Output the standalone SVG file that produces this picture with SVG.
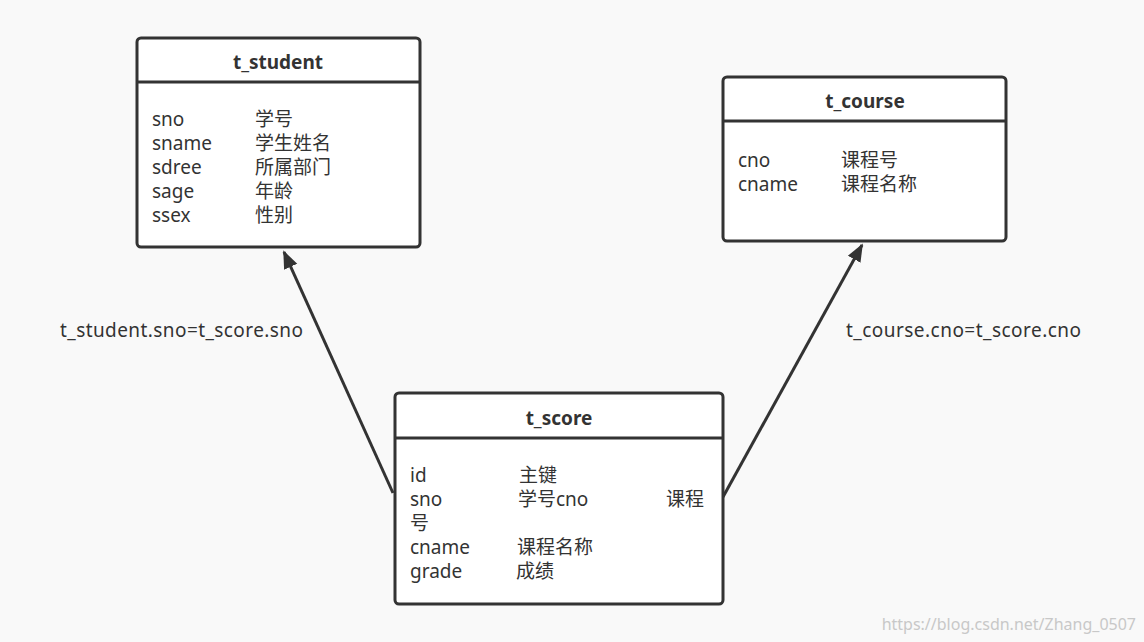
<svg xmlns="http://www.w3.org/2000/svg" width="1144" height="642" viewBox="0 0 1144 642">
<style>
.box{fill:#fff;stroke:#333;stroke-width:3}
.ln{stroke:#333;stroke-width:3}
text{font-family:"Noto Sans","Noto Sans CJK SC",sans-serif;font-size:19px;fill:#333}
.t{font-weight:bold;text-anchor:middle}
.wm{font-size:16px;fill:#c8c8c8;text-anchor:end}
</style>
<defs><marker id="b" viewBox="0 0 10 10" refX="9" refY="5" markerWidth="18" markerHeight="18" orient="auto" markerUnits="userSpaceOnUse"><path d="M0,1 L10,5 L0,9 z" fill="#333"/></marker></defs>
<rect width="1144" height="642" fill="#f9f9f9"/>
<g id="connectors">
<line class="ln" x1="393" y1="493" x2="284" y2="252" marker-end="url(#b)"/>
<line class="ln" x1="723" y1="497" x2="862" y2="245" marker-end="url(#b)"/>
<text x="60" y="337" textLength="243">t_student.sno=t_score.sno</text>
<text x="846" y="337" textLength="235">t_course.cno=t_score.cno</text>
</g>
<g id="t_student">
<rect class="box" x="137" y="38" width="283" height="209" rx="4"/>
<line class="ln" x1="137" y1="82" x2="420" y2="82"/>
<text class="t" x="278" y="69">t_student</text>
<text x="152" y="126">sno</text><text x="255" y="126">学号</text>
<text x="152" y="150">sname</text><text x="255" y="150">学生姓名</text>
<text x="152" y="174">sdree</text><text x="255" y="174">所属部门</text>
<text x="152" y="198">sage</text><text x="255" y="198">年龄</text>
<text x="152" y="222">ssex</text><text x="255" y="222">性别</text>
</g>
<g id="t_course">
<rect class="box" x="723" y="77" width="283" height="164" rx="4"/>
<line class="ln" x1="723" y1="121" x2="1006" y2="121"/>
<text class="t" x="865" y="108">t_course</text>
<text x="738" y="167">cno</text><text x="841" y="167">课程号</text>
<text x="738" y="191">cname</text><text x="841" y="191">课程名称</text>
</g>
<g id="t_score">
<rect class="box" x="395" y="393" width="328" height="211" rx="4"/>
<line class="ln" x1="395" y1="438" x2="723" y2="438"/>
<text class="t" x="559" y="425">t_score</text>
<text x="410" y="482">id</text><text x="519" y="482">主键</text>
<text x="410" y="506">sno</text><text x="518" y="506">学号cno</text><text x="666" y="506">课程</text>
<text x="410" y="530">号</text>
<text x="410" y="554">cname</text><text x="517" y="554">课程名称</text>
<text x="410" y="578">grade</text><text x="516" y="578">成绩</text>
</g>
<text class="wm" x="1136" y="630">https://blog.csdn.net/Zhang_0507</text>
</svg>
